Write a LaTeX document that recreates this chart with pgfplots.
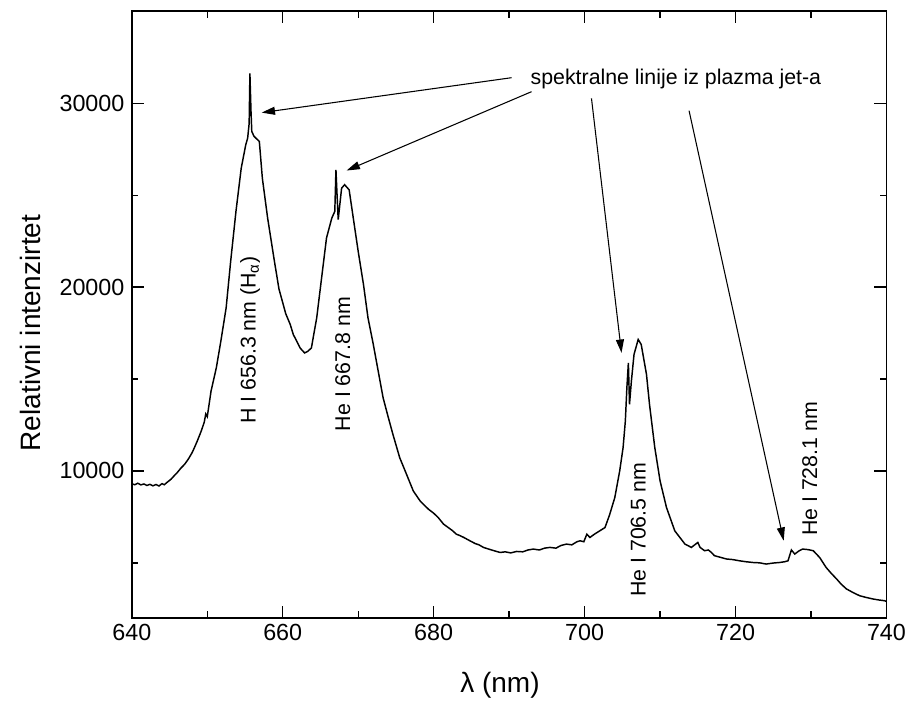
\documentclass[border=0pt]{standalone}
\usepackage{pgfplots}
\pgfplotsset{compat=1.18}
\usepackage{fontspec}
\setmainfont{Liberation Sans}
\usetikzlibrary{arrows.meta}
\begin{document}
\begin{tikzpicture}[x=1pt,y=1pt]
\begin{axis}[
  at={(98.85pt,64.5pt)}, anchor=south west,
  scale only axis,
  width=566pt, height=455pt,
  xmin=640, xmax=740, ymin=2000, ymax=35000,
  xtick={640,660,...,740},
  minor xtick={650,670,...,730},
  ytick={10000,20000,30000},
  minor ytick={5000,15000,25000},
  tick align=inside,
  major tick length=9pt, minor tick length=5pt,
  axis line style={line width=1.4pt},
  every tick/.style={line width=1pt,black},
  tick label style={font=\fontsize{17.5}{20}\selectfont},
  /pgf/number format/assume math mode=true,
  scaled y ticks=false,
  yticklabel style={/pgf/number format/set thousands separator={}, xshift=-2pt},
  xticklabel style={yshift=-1pt},
  clip=false,
]
\addplot[black, line width=1.1pt] coordinates {
(640,9300) (640.4,9250) (640.8,9330) (641.2,9240) (641.6,9290) (642,9210) (642.4,9270) (642.8,9190) (643.2,9260) (643.6,9180) (644,9310) (644.3,9250) (644.8,9420) (645.2,9550) (645.6,9730) (646,9900) (646.5,10150) (647,10360) (647.5,10650) (648,11000) (648.3,11270) (648.7,11650) (649.2,12170) (649.6,12650) (649.8,13100) (650,12950) (650.5,14340) (651.2,15610) (651.8,17060) (652.5,18870) (653.1,21400) (653.8,24110) (654.5,26470) (655.1,27740) (655.35,28100) (655.55,28900) (655.65,31620) (655.8,29500) (655.9,28460) (656.2,28200) (656.45,28100) (656.9,27920) (657.3,25920) (658.0,23750) (658.9,21400) (659.5,19900) (660.4,18550) (661.0,17960) (661.4,17420) (661.8,17100) (662.3,16690) (662.6,16550) (662.9,16420) (663.3,16500) (663.8,16690) (664.1,17400) (664.5,18320) (665.15,20500) (665.8,22670) (666.5,23750) (666.9,24120) (667.05,26380) (667.2,25000) (667.35,23670) (667.8,25380) (668.2,25570) (668.8,25290) (669.35,23750) (670.0,21940) (670.7,20140) (671.3,18320) (672.0,16880) (672.65,15430) (673.3,13980) (674.0,12890) (674.6,11990) (675.5,10720) (676.4,9820) (677.3,8910) (678.2,8370) (679.3,7920) (680.0,7700) (680.6,7465) (681.3,7110) (682,6900) (682.5,6750) (683,6560) (683.5,6480) (684,6380) (684.8,6200) (685.5,6050) (686,5980) (686.6,5840) (687.2,5760) (688,5660) (688.8,5565) (689.5,5600) (690.2,5540) (691,5620) (691.8,5600) (692.5,5700) (693.2,5750) (694,5700) (694.7,5800) (695.4,5840) (696.2,5800) (696.9,5950) (697.6,6020) (698.3,5980) (699,6150) (699.4,6200) (699.9,6150) (700.3,6560) (700.7,6380) (701.3,6560) (702,6740) (702.7,6920) (703.3,7600) (704,8550) (704.65,10000) (705.1,11270) (705.4,12720) (705.6,14520) (705.8,15880) (705.95,13620) (706.2,14890) (706.55,16340) (707.1,17150) (707.5,16880) (708.2,15250) (708.6,13620) (709.3,11270) (710,9460) (710.85,8010) (711.95,6740) (713.3,6020) (714.15,5840) (715,6110) (715.3,5840) (715.9,5660) (716.4,5700) (716.8,5565) (717.2,5390) (718,5300) (718.8,5210) (719.6,5180) (720.55,5110) (721.4,5060) (722.3,5020) (723.2,5000) (724.05,4935) (725,4990) (725.85,5020) (726.5,5060) (726.95,5110) (727.4,5700) (727.85,5480) (728.4,5650) (728.9,5750) (729.6,5720) (730.3,5660) (731.15,5290) (732,4750) (732.7,4420) (733.4,4120) (734,3840) (734.7,3580) (735.5,3400) (736.45,3210) (737.3,3120) (738.2,3035) (739,2980) (739.75,2940) (740,2900)
};
\node[font=\fontsize{16}{19}\selectfont, anchor=center] at (axis cs:712.1,31336) {spektralne linije iz plazma jet-a};
\draw[line width=0.8pt, -{Triangle[length=10pt,width=6pt]}] (axis cs:690.32,31390) -- (axis cs:657.21,29490);
\draw[line width=0.8pt, -{Triangle[length=10pt,width=6pt]}] (axis cs:692.97,30630) -- (axis cs:668.46,26341);
\draw[line width=0.8pt, -{Triangle[length=10pt,width=6pt]}] (axis cs:700.91,30267) -- (axis cs:704.89,16423);
\draw[line width=0.8pt, -{Triangle[length=10pt,width=6pt]}] (axis cs:713.84,29598) -- (axis cs:726.38,6200);
\node[font=\fontsize{16}{19}\selectfont, rotate=90, anchor=center] at (axis cs:655.66,17112) {H I 656.3 nm (H\textsubscript{α})};
\node[font=\fontsize{16}{19}\selectfont, rotate=90, anchor=center] at (axis cs:667.97,15809) {He I 667.8 nm};
\node[font=\fontsize{16}{19}\selectfont, rotate=90, anchor=center] at (axis cs:707.11,6797) {He I 706.5 nm};
\node[font=\fontsize{16}{19}\selectfont, rotate=90, anchor=center] at (axis cs:729.83,10109) {He I 728.1 nm};
\end{axis}
\node[font=\fontsize{21}{25}\selectfont, rotate=90, anchor=center] at (22.5,278.25) {Relativni intenzirtet};
\node[font=\fontsize{21}{25}\selectfont, anchor=center] at (375,14.25) {λ (nm)};
\pgfresetboundingbox
\path (0,0) rectangle (679.5,528);
\end{tikzpicture}
\end{document}
